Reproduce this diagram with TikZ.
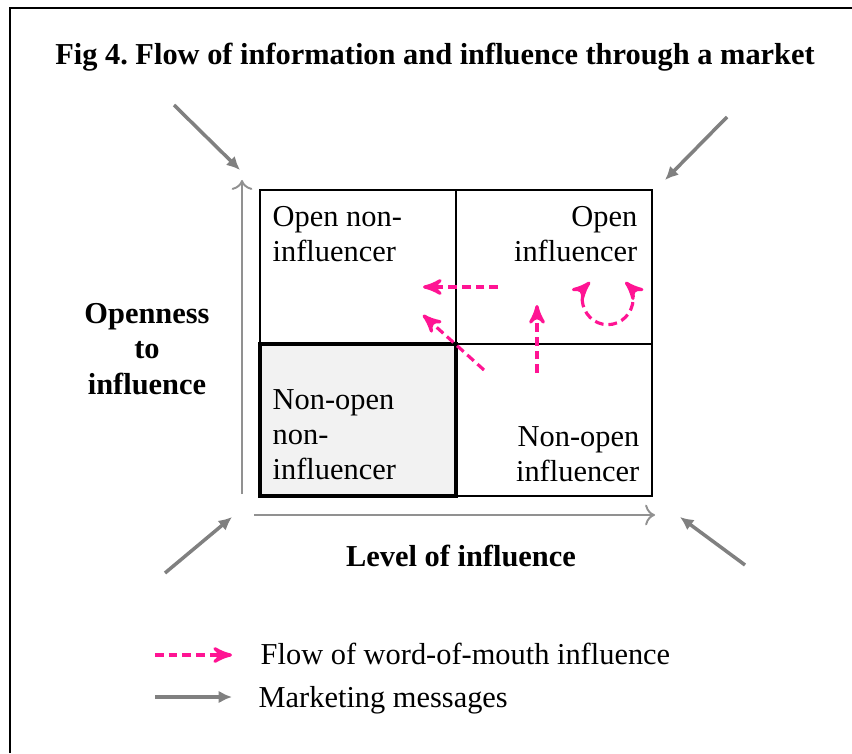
\documentclass[tikz,border=0pt]{standalone}
\usepackage{fontspec}
\setmainfont{Liberation Serif}
\usetikzlibrary{arrows,arrows.meta}
\definecolor{wompink}{RGB}{255,20,147}
\definecolor{mktgray}{RGB}{128,128,128}
\definecolor{axisgray}{RGB}{145,145,145}
\tikzset{
  mkt/.style={-{Latex[length=3.8pt, width=3.6pt]}, line width=1pt, mktgray},
  wom/.style={-stealth', line width=0.9pt, wompink, dash pattern=on 2.5pt off 1.4pt},
  celltext/.style={inner sep=0pt, font=\fontsize{8.65}{10}\selectfont},
  boldtext/.style={inner sep=0pt, align=center, font=\fontsize{8.65}{10}\selectfont\bfseries},
}

\begin{document}
\begin{tikzpicture}
    \useasboundingbox (0, 0) rectangle (8.52, 7.53);
    \draw[line width=0.6pt] (0.10, 0) -- (0.10, 7.45) -- (8.52, 7.45);
    \node[boldtext] (title) at (4.35, 6.96) {Fig 4.\ Flow of information and influence through a market};
    \draw[line width=0.45pt] (2.60, 2.57) rectangle (6.52, 5.63);
    \draw[line width=0.45pt] (4.56, 2.57) -- (4.56, 5.63);
    \draw[line width=0.45pt] (2.60, 4.09) -- (6.52, 4.09);
    \draw[fill=black!5, line width=1.15pt] (2.60, 2.57) rectangle (4.56, 4.09);
    \node[celltext, anchor=west, align=left] (opennon) at (2.72, 5.185) {Open non-\\influencer};
    \node[celltext, anchor=east, align=right] (openinf) at (6.38, 5.185) {Open\\influencer};
    \node[celltext, anchor=west, align=left] (nonopennon) at (2.72, 3.18) {Non-open\\non-\\influencer};
    \node[celltext, anchor=east, align=right] (nonopeninf) at (6.40, 2.99) {Non-open\\influencer};
    \draw[->, axisgray, line width=0.55pt] (2.42, 2.59) -- (2.42, 5.73);
    \draw[->, axisgray, line width=0.55pt] (2.54, 2.38) -- (6.55, 2.38);
    \node[boldtext] (openness) at (1.47, 4.04) {Openness\\to\\influence};
    \node[boldtext] (level) at (4.61, 1.97) {Level of influence};
    \draw[mkt] (1.74, 6.48) -- (2.40, 5.83);
    \draw[mkt] (7.27, 6.36) -- (6.65, 5.73);
    \draw[mkt] (1.65, 1.80) -- (2.32, 2.36);
    \draw[mkt] (7.45, 1.88) -- (6.80, 2.36);
    \draw[wom] (4.98, 4.66) -- (4.23, 4.66);
    \draw[wom] (4.84, 3.83) -- (4.23, 4.38);
    \draw[wom] (5.37, 3.80) -- (5.37, 4.48);
    \draw[wom, stealth'-stealth'] (5.90, 4.71) arc[start angle=135, end angle=405, radius=0.25];
    \draw[wom] (1.55, 0.98) -- (2.32, 0.98);
    \node[celltext, anchor=west] (womkey) at (2.60, 0.99) {Flow of word-of-mouth influence};
    \draw[mkt] (1.55, 0.56) -- (2.32, 0.56);
    \node[celltext, anchor=west] (mktkey) at (2.58, 0.53) {Marketing messages};
  \end{tikzpicture}
\end{document}
